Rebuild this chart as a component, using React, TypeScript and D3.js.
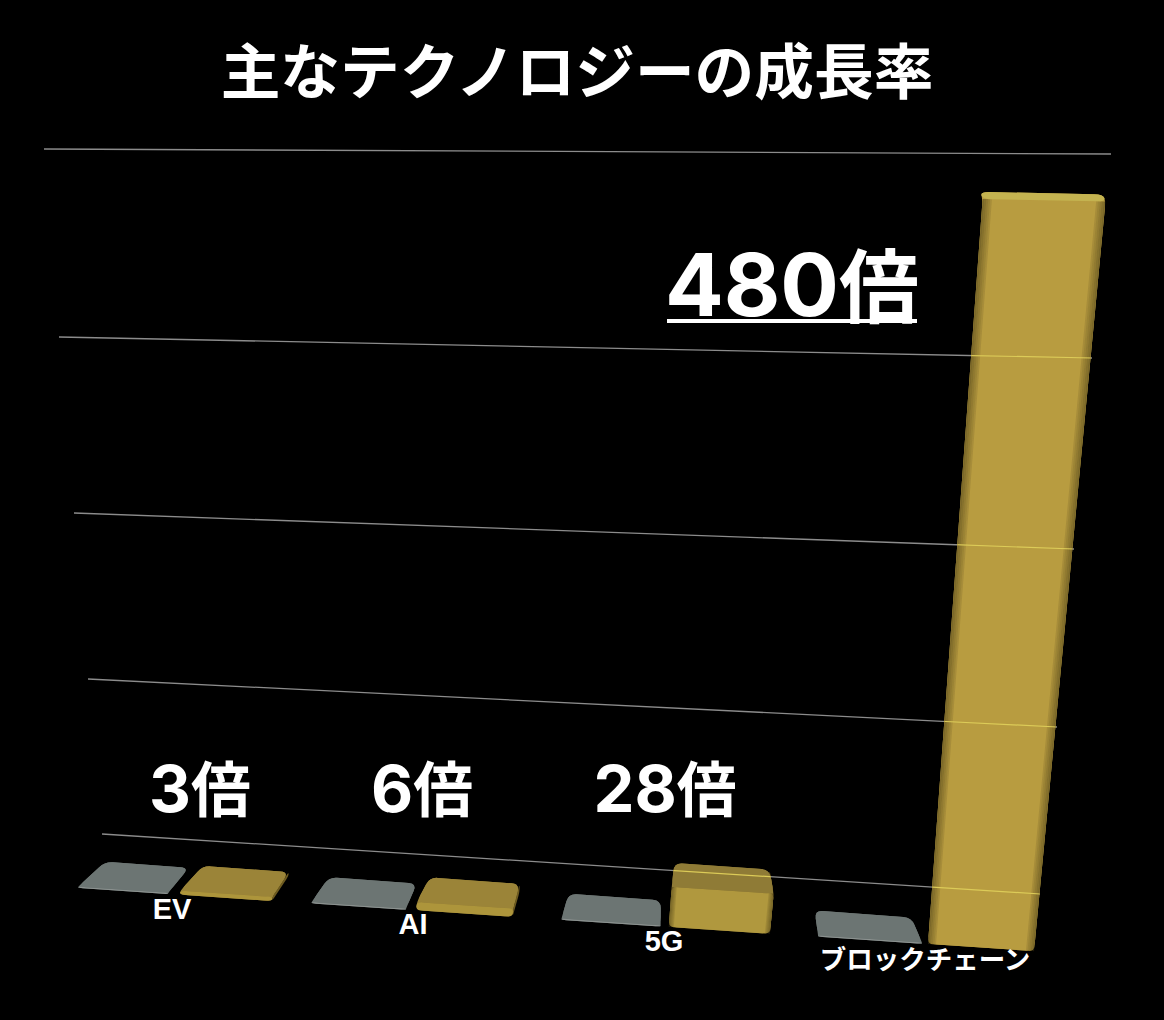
import React from 'react';
import * as d3 from 'd3';

const title = '主なテクノロジーの成長率';
const categories = ['EV', 'AI', '5G', 'ブロックチェーン'];
const baselineValues = [1, 1, 1, 1];
const growthValues = [3, 6, 28, 480];
const growthLabels = ['3', '6', '28', '480'];
const gridLevels = [100, 200, 300, 400, 500];

const W = 1164;
const H = 1020;

// the original is a tilted 3D chart, so the scales below fake its perspective
const groupIndex = d3.scalePow().exponent(1.05).domain([0, 3]).range([78, 818]);
const innerGap = d3.scaleLinear().domain([0, 3]).range([102, 110]);
const groundY = d3.scaleLinear().domain([78, 928]).range([888, 944]);
const barWidth = d3.scaleLinear().domain([78, 928]).range([90, 106]);
const depthSkew = d3.scaleLinear().domain([78, 928]).range([27, -8]);
const heightScale = d3.scalePow().exponent(1.03).domain([0, 480]).range([0, 745]);
const depthScale = d3.scaleLinear().domain([0, 750]).range([25, 7]);
const leanScale = d3.scaleLinear().domain([0, 750]).range([0, 55]);
const spreadScale = d3.scaleLinear().domain([0, 750]).range([1, 1.16]);
const slopeScale = d3.scaleLinear().domain([0, 750]).range([0.068, 0.02]);
const backWidth = d3.scaleLinear().domain([0, 750]).range([0.93, 1]);

const gridLeftX = d3.scaleLinear().domain(gridLevels).range([102, 88, 74, 59, 44]);
const gridRightX = d3.scaleLinear().domain(gridLevels).range([1040, 1057, 1074, 1092, 1111]);
const gridLeftY = d3.scaleLinear().domain(gridLevels).range([834, 679, 513, 337, 149]);
const gridRightY = d3.scaleLinear().domain(gridLevels).range([894, 727, 549, 358, 154]);

const labelCenter = d3.scaleOrdinal<string, number>().domain(categories).range([172, 413, 664, 925]);
const valueCenter = d3.scaleOrdinal<string, number>().domain(categories).range([200, 422, 665, 792]);
const valueBase = d3.scaleOrdinal<string, number>().domain(categories).range([812, 812, 812, 316]);
const valueSize = d3.scaleOrdinal<string, number>().domain(categories).range([65, 65, 65, 87]);

type Pt = [number, number];

function rounded(points: Pt[], r: number) {
  const path = d3.path();
  const n = points.length;
  points.forEach((p, i) => {
    const prev = points[(i + n - 1) % n];
    const next = points[(i + 1) % n];
    const cut = (q: Pt): Pt => {
      const len = Math.hypot(q[0] - p[0], q[1] - p[1]);
      const t = Math.min(r, len / 2) / (len || 1);
      return [p[0] + (q[0] - p[0]) * t, p[1] + (q[1] - p[1]) * t];
    };
    const a = cut(prev);
    const b = cut(next);
    if (i === 0) path.moveTo(a[0], a[1]);
    else path.lineTo(a[0], a[1]);
    path.quadraticCurveTo(p[0], p[1], b[0], b[1]);
  });
  path.closePath();
  return path.toString();
}

function barGeometry(x: number, value: number) {
  const y = groundY(x);
  const w = barWidth(x);
  const h = heightScale(value);
  const topX = x + leanScale(h);
  const topW = w * spreadScale(h);
  const topY = y - h;
  const slope = slopeScale(h);
  const depth = depthScale(h);
  const skew = depthSkew(x) * (depth / 25);
  const bl: Pt = [x, y];
  const br: Pt = [x + w, y + w * 0.068];
  const tl: Pt = [topX, topY];
  const tr: Pt = [topX + topW, topY + topW * slope];
  const bkl: Pt = [topX + skew, topY - depth];
  const bkr: Pt = [topX + skew + topW * backWidth(h), topY + topW * slope - depth];
  const bkb: Pt = [bkr[0], bkr[1] + h];
  return { bl, br, tl, tr, bkl, bkr, bkb, h };
}

const mix = (a: Pt, b: Pt, t: number): Pt => [a[0] + (b[0] - a[0]) * t, a[1] + (b[1] - a[1]) * t];

const Bar: React.FC<{ x: number; value: number; gold: boolean }> = ({ x, value, gold }) => {
  const g = barGeometry(x, value);
  const r = g.h > 100 ? 9 : 8;
  const front = gold ? (g.h > 100 ? '#b89c40' : g.h > 20 ? '#b0983e' : '#ad953b') : '#8b918f';
  const top = gold ? (g.h > 100 ? '#c4b350' : g.h > 20 ? '#8f7b36' : '#9b8438') : '#6c7573';
  const strips = g.h > 20 ? d3.range(5) : [];
  const stripW = g.h > 100 ? 1.6 : 1;
  return (
    <g>
      {gold && g.h < 100 && <path d={rounded([g.tr, g.bkr, g.bkb, g.br], 4)} fill="#6e5b20" />}
      <path d={rounded([g.bl, g.br, g.tr, g.bkr, g.bkl, g.tl], r)} fill={g.h > 100 ? front : top} />
      <path d={rounded([g.bl, g.br, g.tr, g.tl], Math.min(r, 5))} fill={front} />
      {gold &&
        strips.map(i => {
          const width = barWidth(x);
          const f0 = (i * stripW) / width;
          const f1 = ((i + 1) * stripW) / width;
          const opacity = 0.5 - i * 0.09;
          return (
            <g key={i} fill="#3d3312" fillOpacity={opacity}>
              <path d={`M${mix(g.bl, g.br, f0)}L${mix(g.bl, g.br, f1)}L${mix(g.tl, g.tr, f1)}L${mix(g.tl, g.tr, f0)}Z`} />
              <path d={`M${mix(g.br, g.bl, f0)}L${mix(g.br, g.bl, f1)}L${mix(g.tr, g.tl, f1)}L${mix(g.tr, g.tl, f0)}Z`} />
            </g>
          );
        })}
      <path d={rounded([g.tl, g.tr, g.bkr, g.bkl], r)} fill={top} />
    </g>
  );
};

const goldX = (i: number) => groupIndex(i) + innerGap(i);

function goldSilhouette(i: number) {
  const g = barGeometry(goldX(i), growthValues[i]);
  return rounded([g.bl, g.br, g.tr, g.bkr, g.bkl, g.tl], 6);
}

const sans = '"Liberation Sans", "Noto Sans CJK JP", sans-serif';
const cjk = '"Noto Sans CJK JP", sans-serif';
const digits = 'Inter, "Liberation Sans", sans-serif';

export default function App() {
  return (
    <svg width={W} height={H} viewBox={`0 0 ${W} ${H}`} style={{ position: 'absolute', left: 0, top: 0, display: 'block', background: '#000' }}>
      <defs>
        <clipPath id="goldClip">
          {categories.map((c, i) => (
            <path key={c} d={goldSilhouette(i)} />
          ))}
        </clipPath>
      </defs>
      <rect width={W} height={H} fill="#000" />

      <g stroke="#8c8c8c" strokeWidth={1.3}>
        {gridLevels.map(l => (
          <line key={l} x1={gridLeftX(l)} y1={gridLeftY(l)} x2={gridRightX(l)} y2={gridRightY(l)} />
        ))}
      </g>

      {categories.map((c, i) => (
        <g key={c}>
          <Bar x={groupIndex(i)} value={baselineValues[i]} gold={false} />
          <Bar x={goldX(i)} value={growthValues[i]} gold />
        </g>
      ))}

      <g stroke="#dccb58" strokeWidth={1.2} clipPath="url(#goldClip)">
        {gridLevels.map(l => (
          <line key={l} x1={gridLeftX(l)} y1={gridLeftY(l)} x2={gridRightX(l)} y2={gridRightY(l)} />
        ))}
      </g>

      <text x={577} y={94} textAnchor="middle" fill="#fff" fontFamily={cjk} fontWeight={700} fontSize={59.7}>
        {title}
      </text>

      {categories.map((c, i) => (
        <text
          key={c}
          x={labelCenter(c)}
          y={groundY(groupIndex(i)) + (i === 3 ? 32 : 31)}
          textAnchor="middle"
          fill="#fff"
          fontFamily={sans}
          fontWeight={700}
          fontSize={i === 3 ? 26.5 : 29}
        >
          {c}
        </text>
      ))}

      {categories.map(c => {
        const i = categories.indexOf(c);
        const size = valueSize(c);
        return (
          <text key={c} x={valueCenter(c)} y={valueBase(c)} textAnchor="middle" fill="#fff" fontWeight={700} fontFamily={digits}>
            <tspan fontSize={size}>{growthLabels[i]}</tspan>
            <tspan fontSize={size * 0.92} fontFamily={cjk}>倍</tspan>
          </text>
        );
      })}
      <line x1={valueCenter(categories[3]) - 125} x2={valueCenter(categories[3]) + 125} y1={321} y2={321} stroke="#fff" strokeWidth={4} />
    </svg>
  );
}
